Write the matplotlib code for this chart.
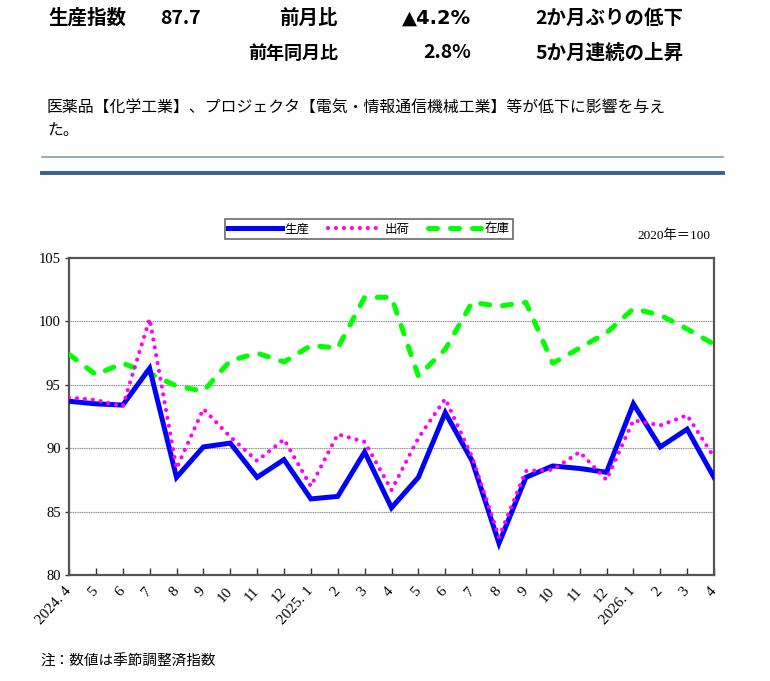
import matplotlib
matplotlib.use("Agg")
import matplotlib.pyplot as plt
from matplotlib.lines import Line2D

plt.rcParams['font.family'] = ['Noto Sans CJK JP', 'DejaVu Sans']

months = ["2024. 4", "5", "6", "7", "8", "9", "10", "11", "12",
          "2025. 1", "2", "3", "4", "5", "6", "7", "8", "9", "10", "11", "12",
          "2026. 1", "2", "3", "4"]
production = [93.7, 93.5, 93.4, 96.3, 87.7, 90.1, 90.4, 87.7, 89.1, 86.0, 86.2, 89.7, 85.3,
              87.7, 92.8, 89.0, 82.5, 87.7, 88.6, 88.4, 88.1, 93.5, 90.1, 91.5, 87.7]
shipment = [94.0, 93.8, 93.3, 100.2, 88.4, 93.1, 90.9, 89.0, 90.7, 87.0, 91.1, 90.5, 86.7,
            90.8, 93.9, 89.3, 83.0, 88.2, 88.3, 89.7, 87.5, 92.2, 91.8, 92.6, 89.3]
inventory = [97.4, 95.8, 96.7, 95.9, 94.9, 94.5, 96.9, 97.5, 96.8, 98.1, 97.9, 101.9, 101.9,
             95.7, 97.8, 101.5, 101.2, 101.5, 96.7, 97.9, 99.1, 101.0, 100.5, 99.4, 98.2]
series_names = ["生産", "出荷", "在庫"]
yticks = [80, 85, 90, 95, 100, 105]

W, H = 770, 681
fig = plt.figure(figsize=(W / 100, H / 100), dpi=100)

def fx(px):
    return px / W

def fy(py):
    return 1 - py / H

# Header
hdr = dict(fontsize=14, fontweight='bold', va='center', color='black')
fig.text(fx(48), fy(18), "生産指数", ha='left', **hdr)
fig.text(fx(160), fy(18), "87.7", ha='left', **hdr)
fig.text(fx(338), fy(18), "前月比", ha='right', **hdr)
fig.text(fx(471), fy(18), "▲4.2%", ha='right', fontsize=14, fontweight='bold',
         va='center', family=['DejaVu Sans', 'Noto Sans CJK JP'])
fig.text(fx(535), fy(18), "2か月ぶりの低下", ha='left', **hdr)
fig.text(fx(338), fy(53), "前年同月比", ha='right', fontsize=13, fontweight='bold', va='center')
fig.text(fx(471), fy(53), "2.8%", ha='right', **hdr)
fig.text(fx(535), fy(53), "5か月連続の上昇", ha='left', **hdr)

fig.text(fx(47), fy(107), "医薬品【化学工業】、プロジェクタ【電気・情報通信機械工業】等が低下に影響を与え",
         ha='left', va='center', fontsize=11.4)
fig.text(fx(47), fy(130), "た。", ha='left', va='center', fontsize=11.4)

# separator lines
fig.add_artist(Line2D([fx(42), fx(723)], [fy(157), fy(157)], color='#7f9cbf', lw=1.2))
fig.add_artist(Line2D([fx(42), fx(723)], [fy(170.5), fy(170.5)], color='#c5d3e3', lw=0.8))
fig.add_artist(Line2D([fx(42), fx(723)], [fy(173), fy(173)], color='#3a6091', lw=2.8))

# Axes
ax = fig.add_axes([fx(69), fy(575), (714 - 69) / W, (575 - 258) / H])
x = list(range(len(months)))
l1, = ax.plot(x, production, color='#0000ff', lw=3.6, solid_joinstyle='miter', zorder=4)
l2, = ax.plot(x, shipment, color='#ff00ff', lw=3.0, linestyle=(0, (0.01, 1.9)),
              dash_capstyle='round', zorder=5)
l3, = ax.plot(x, inventory, color='#00ff00', lw=3.6, linestyle=(0, (1.8, 2.6)),
              dash_capstyle='round', zorder=3)

ax.set_xlim(0, len(months) - 1)
ax.set_ylim(80, 105)
ax.set_yticks(yticks)
ax.set_yticklabels([str(v) for v in yticks], family='Liberation Serif', fontsize=10.5)
for v in yticks[1:-1]:
    ax.axhline(v, color='#8a8a8a', lw=0.8, linestyle=(0, (1, 0.6)), zorder=1)

ax.set_xticks(x)
ax.set_xticklabels(months, rotation=48, ha='right', va='center', rotation_mode='anchor',
                   family='Liberation Serif', fontsize=11)
ax.tick_params(axis='x', direction='in', length=5, width=1, pad=10, colors='#333333',
               labelcolor='black')
ax.tick_params(axis='y', direction='out', length=3, width=1, pad=3, colors='#333333',
               labelcolor='black')
for s in ax.spines.values():
    s.set_color('#555555')
    s.set_linewidth(1.6)

# Legend
leg = fig.legend([l1, l2, l3], series_names, loc='center',
                 bbox_to_anchor=(fx(369), fy(229)), ncol=3, fontsize=9,
                 frameon=True, fancybox=False, edgecolor='#444444', handlelength=4.3,
                 handletextpad=0.2, columnspacing=1.5, borderpad=0.3)
leg.get_frame().set_linewidth(1.2)

fig.text(fx(710), fy(236), "2020年＝100", ha='right', va='center', fontsize=9.5,
         family=['Liberation Serif', 'Noto Sans CJK JP'])

fig.text(fx(40), fy(662), "注：数値は季節調整済指数", ha='left', va='center', fontsize=10.5)

fig.savefig("out.png", dpi=100)
